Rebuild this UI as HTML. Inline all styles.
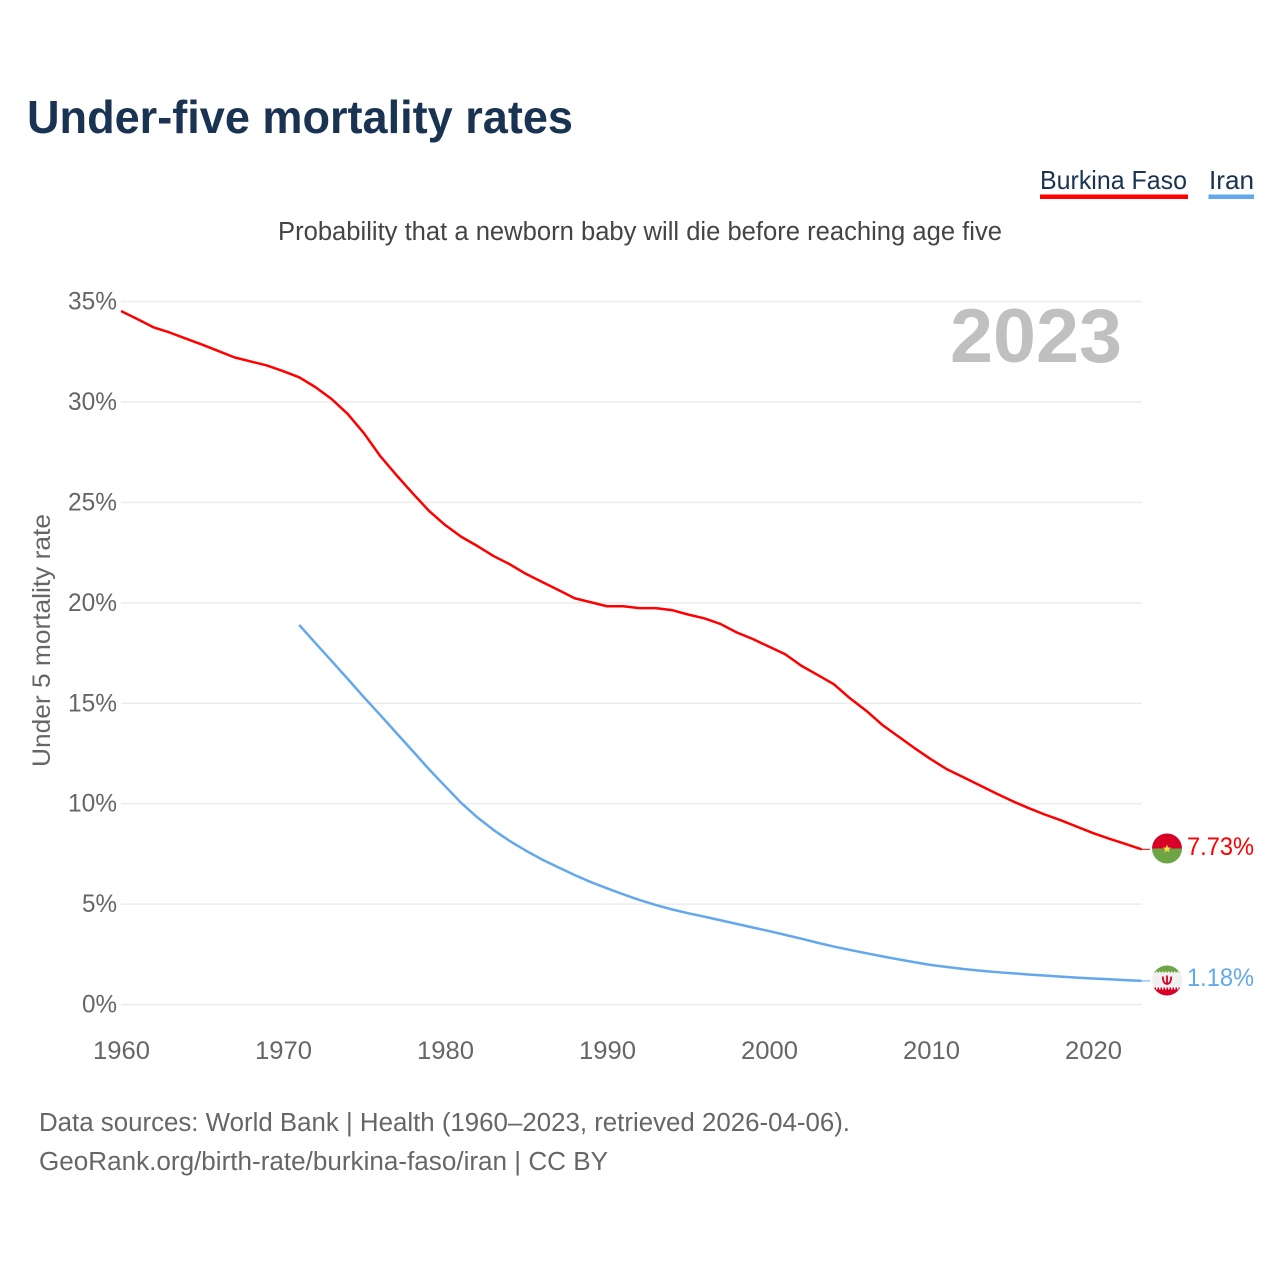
<!DOCTYPE html>
<html lang="en">
<head>
<meta charset="utf-8">
<title>Under-five mortality rates</title>
<style>
html,body{margin:0;padding:0;background:#fff;}
svg{display:block;font-family:"Liberation Sans",Arial,sans-serif;}
</style>
</head>
<body>
<svg id="chart" width="1280" height="1280" viewBox="0 0 1280 1280" xmlns="http://www.w3.org/2000/svg">
  <defs>
    <clipPath id="clip-bf"><circle cx="1167" cy="848.5" r="15"/></clipPath>
    <clipPath id="clip-ir"><circle cx="1167" cy="980.5" r="15"/></clipPath>
  </defs>
  <rect width="1280" height="1280" fill="#fff"/>
  <text x="27" y="133" font-size="46" font-weight="700" fill="#1a3352" textLength="546" lengthAdjust="spacingAndGlyphs">Under-five mortality rates</text>
  <g>
    <g>
      <text x="1040" y="189" font-size="26" fill="#1a3352" textLength="147" lengthAdjust="spacingAndGlyphs">Burkina Faso</text>
      <rect x="1040" y="194.5" width="148" height="4.5" fill="#ff0000"/>
    </g>
    <g>
      <text x="1209" y="189" font-size="26" fill="#1a3352" textLength="45" lengthAdjust="spacingAndGlyphs">Iran</text>
      <rect x="1208.500" y="194.500" width="45.500" height="4.500" fill="#63a8ec"/>
    </g>
  </g>
  <text x="278" y="240" font-size="25.500" fill="#444" textLength="724" lengthAdjust="spacingAndGlyphs">Probability that a newborn baby will die before reaching age five</text>
  <g id="grid"></g>
  <g id="yticks"></g>
  <g id="xticks"></g>
  <text transform="translate(50,767) rotate(-90)" font-size="25" fill="#666" textLength="253" lengthAdjust="spacingAndGlyphs">Under 5 mortality rate</text>
  <text x="950" y="362" font-size="76" font-weight="700" fill="#c0c0c0" textLength="172" lengthAdjust="spacingAndGlyphs">2023</text>
  <g id="series"></g>

  <g clip-path="url(#clip-bf)">
    <rect x="1150" y="832" width="34" height="16.500" fill="#d80027"/>
    <rect x="1150" y="848.500" width="34" height="17" fill="#6da544"/>
    <polygon points="1167,844.500 1168.100,847.500 1171.200,847.600 1168.700,849.500 1169.600,852.500 1167,850.700 1164.400,852.500 1165.300,849.500 1162.800,847.600 1165.900,847.500" fill="#ffda44"/>
  </g>
  <g clip-path="url(#clip-ir)">
    <rect x="1150" y="964" width="34" height="10" fill="#6da544"/>
    <rect x="1150" y="972.500" width="34" height="16" fill="#f0f0f0"/>
    <rect x="1150" y="987.500" width="34" height="10" fill="#d80027"/>
    <line x1="1150" x2="1184" y1="972.500" y2="972.500" stroke="#f0f0f0" stroke-width="2" stroke-dasharray="1.500 1.500"/>
    <line x1="1150" x2="1184" y1="988.500" y2="988.500" stroke="#f0f0f0" stroke-width="2" stroke-dasharray="1.500 1.500"/>
    <path d="M1162.800 976.500 q0 7 4.200 7.500 q4.200 -0.500 4.200 -7.500 M1167 975.500 v8.500" fill="none" stroke="#d80027" stroke-width="1.800"/>
  </g>
  <text id="label-bf" x="1254" y="855" font-size="25" text-anchor="end" fill="#ff0000" textLength="67" lengthAdjust="spacingAndGlyphs">7.73%</text>
  <text id="label-ir" x="1254" y="986" font-size="25" text-anchor="end" fill="#63a8ec" textLength="67" lengthAdjust="spacingAndGlyphs">1.18%</text>

  <text x="39" y="1131" font-size="25.500" fill="#666" textLength="811" lengthAdjust="spacingAndGlyphs">Data sources: World Bank | Health (1960–2023, retrieved 2026-04-06).</text>
  <text x="39" y="1170" font-size="25.500" fill="#666" textLength="569" lengthAdjust="spacingAndGlyphs">GeoRank.org/birth-rate/burkina-faso/iran | CC BY</text>
</svg>
<script>
const yTickValues = [0, 5, 10, 15, 20, 25, 30, 35];
const xTickYears = [1960, 1970, 1980, 1990, 2000, 2010, 2020];
const burkinaStartYear = 1960;
const burkinaValues = [34.53,34.13,33.72,33.46,33.16,32.86,32.54,32.22,32.02,31.82,31.54,31.23,30.74,30.15,29.40,28.44,27.31,26.36,25.46,24.59,23.88,23.29,22.83,22.33,21.92,21.44,21.04,20.64,20.23,20.03,19.83,19.83,19.74,19.74,19.64,19.42,19.23,18.95,18.53,18.20,17.82,17.44,16.87,16.41,15.95,15.25,14.63,13.92,13.34,12.76,12.21,11.71,11.32,10.92,10.52,10.14,9.79,9.47,9.18,8.86,8.54,8.26,8.00,7.73];
const iranStartYear = 1971;
const iranValues = [18.90,18.00,17.11,16.21,15.30,14.42,13.52,12.63,11.73,10.88,10.04,9.32,8.69,8.14,7.66,7.22,6.83,6.45,6.10,5.79,5.49,5.21,4.96,4.74,4.55,4.38,4.20,4.02,3.84,3.66,3.47,3.28,3.08,2.89,2.72,2.56,2.40,2.25,2.11,1.97,1.87,1.77,1.69,1.62,1.56,1.50,1.45,1.39,1.34,1.30,1.26,1.22,1.18];

const NS = 'http://www.w3.org/2000/svg';
function xScale(year) { return 121 + (year - 1960) * 16.2; }
function yScale(value) { return 1004.6 - value * 20.087; }
const xEnd = xScale(2023);

const grid = document.getElementById('grid');
const yticks = document.getElementById('yticks');
yTickValues.forEach(function (v) {
  const line = document.createElementNS(NS, 'line');
  
  
  line.setAttribute('x1', 121);
  line.setAttribute('x2', xEnd);
  line.setAttribute('y1', yScale(v));
  line.setAttribute('y2', yScale(v));
  line.setAttribute('stroke', '#ececec');
  line.setAttribute('stroke-width', '1.5');
  grid.appendChild(line);

  const t = document.createElementNS(NS, 'text');
  
  
  const label = v + '%';
  t.textContent = label;
  t.setAttribute('x', 117);
  t.setAttribute('y', yScale(v) + 8);
  t.setAttribute('font-size', '25');
  t.setAttribute('fill', '#666');
  t.setAttribute('text-anchor', 'end');
  t.setAttribute('textLength', label.length === 3 ? 49 : 35);
  t.setAttribute('lengthAdjust', 'spacingAndGlyphs');
  yticks.appendChild(t);
});

const xticks = document.getElementById('xticks');
xTickYears.forEach(function (yr) {
  const t = document.createElementNS(NS, 'text');
  
  
  t.textContent = String(yr);
  t.setAttribute('x', xScale(yr) + 0.5);
  t.setAttribute('y', 1059);
  t.setAttribute('font-size', '25');
  t.setAttribute('fill', '#666');
  t.setAttribute('text-anchor', 'middle');
  t.setAttribute('textLength', 57);
  t.setAttribute('lengthAdjust', 'spacingAndGlyphs');
  xticks.appendChild(t);
});

function linePath(startYear, values) {
  return values.map(function (v, i) {
    return (i ? 'L' : 'M') + xScale(startYear + i).toFixed(2) + ' ' + yScale(v).toFixed(2);
  }).join(' ');
}

const seriesGroup = document.getElementById('series');

const burkinaLine = document.createElementNS(NS, 'path');


burkinaLine.setAttribute('d', linePath(burkinaStartYear, burkinaValues));
burkinaLine.setAttribute('fill', 'none');
burkinaLine.setAttribute('stroke', '#ff0000');
burkinaLine.setAttribute('stroke-width', '2.5');
burkinaLine.setAttribute('stroke-linejoin', 'round');
seriesGroup.appendChild(burkinaLine);

const iranLine = document.createElementNS(NS, 'path');


iranLine.setAttribute('d', linePath(iranStartYear, iranValues));
iranLine.setAttribute('fill', 'none');
iranLine.setAttribute('stroke', '#63a8ec');
iranLine.setAttribute('stroke-width', '2.5');
iranLine.setAttribute('stroke-linejoin', 'round');
seriesGroup.appendChild(iranLine);

const burkinaConnector = document.createElementNS(NS, 'line');


burkinaConnector.setAttribute('x1', xEnd);
burkinaConnector.setAttribute('x2', 1150);
burkinaConnector.setAttribute('y1', yScale(burkinaValues[burkinaValues.length - 1]));
burkinaConnector.setAttribute('y2', yScale(burkinaValues[burkinaValues.length - 1]));
burkinaConnector.setAttribute('stroke', '#ff0000');
burkinaConnector.setAttribute('stroke-width', '1');
seriesGroup.appendChild(burkinaConnector);

const iranConnector = document.createElementNS(NS, 'line');


iranConnector.setAttribute('x1', xEnd);
iranConnector.setAttribute('x2', 1150);
iranConnector.setAttribute('y1', yScale(iranValues[iranValues.length - 1]));
iranConnector.setAttribute('y2', yScale(iranValues[iranValues.length - 1]));
iranConnector.setAttribute('stroke', '#63a8ec');
iranConnector.setAttribute('stroke-width', '1');
seriesGroup.appendChild(iranConnector);
</script>
</body>
</html>
